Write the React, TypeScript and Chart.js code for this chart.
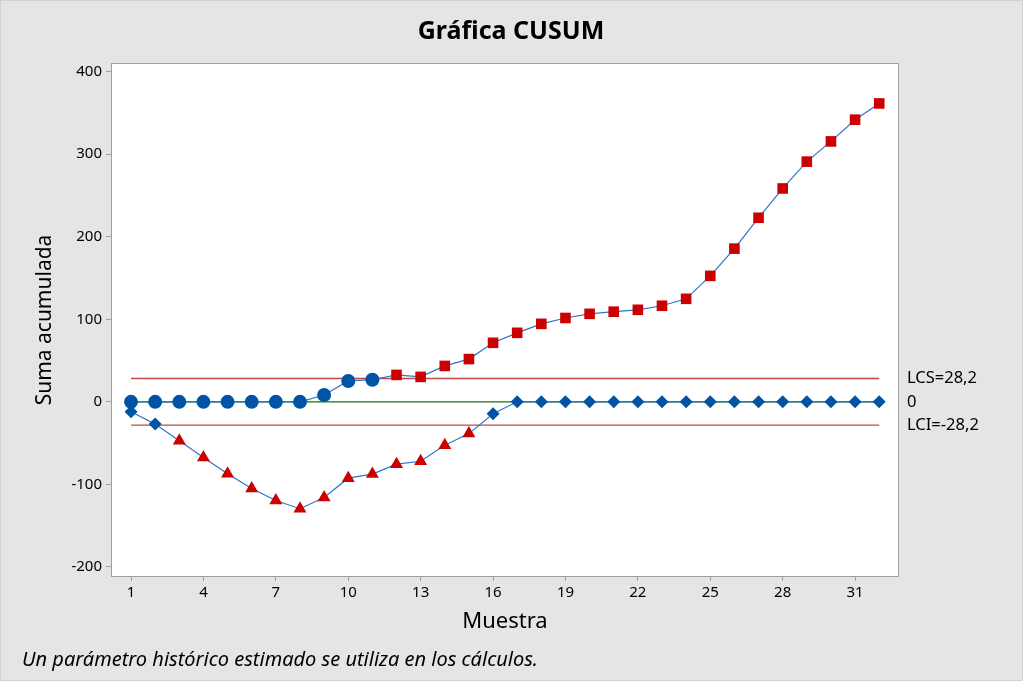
import React, { useEffect, useRef } from "react";
import { Chart, registerables } from "chart.js";

Chart.register(...registerables);

// ---- data ----
const samples = [1, 2, 3, 4, 5, 6, 7, 8, 9, 10, 11, 12, 13, 14, 15, 16, 17, 18, 19, 20, 21, 22, 23, 24, 25, 26, 27, 28, 29, 30, 31, 32];
const cusumUpper = [0, 0, 0, 0, 0, 0, 0, 0, 8.3, 25.3, 26.8, 32.6, 30.2, 43.5, 51.8, 71.5, 83.6, 94.5, 101.6, 106.6, 109.2, 111.5, 116.4, 124.8, 152.6, 185.6, 223, 258.5, 291, 315.5, 341.8, 361.5];
const cusumLower = [-12, -27, -47, -67.5, -87, -105, -119.5, -129.5, -116, -92.5, -87.5, -75.5, -72, -52.5, -38.5, -14.5, 0, 0, 0, 0, 0, 0, 0, 0, 0, 0, 0, 0, 0, 0, 0, 0];
const ucl = 28.2;
const lcl = -28.2;
const center = 0;
const xTicks = [1, 4, 7, 10, 13, 16, 19, 22, 25, 28, 31];
const yTicks = [-200, -100, 0, 100, 200, 300, 400];
const uclLabel = "LCS=28,2";
const centerLabel = "0";
const lclLabel = "LCI=-28,2";
const title = "Gráfica CUSUM";
const xTitle = "Muestra";
const yTitle = "Suma acumulada";
const footnote = "Un parámetro histórico estimado se utiliza en los cálculos.";

const BLUE = "#0054a6";
const RED = "#cc0000";
const LINE = "#2e75c8";
const LIMIT = "#c24848";
const GREEN = "#0a7d0a";
const FONT = "'Noto Sans', 'Open Sans', sans-serif";

export default function App() {
  const ref = useRef<HTMLCanvasElement>(null);

  useEffect(() => {
    document.body.style.margin = "0";
    const canvas = ref.current!;
    const first = samples[0];
    const last = samples[samples.length - 1];

    const decor = {
      id: "decor",
      beforeDraw(chart: any) {
        const { ctx, chartArea: a, width, height } = chart;
        ctx.save();
        ctx.fillStyle = "#e5e5e5";
        ctx.fillRect(0, 0, width, height);
        ctx.strokeStyle = "#d2d2d2";
        ctx.lineWidth = 1;
        ctx.strokeRect(0.5, 0.5, width - 1, height - 1);
        ctx.fillStyle = "#ffffff";
        ctx.fillRect(a.left, a.top, a.right - a.left, a.bottom - a.top);
        ctx.strokeStyle = "#a0a0a0";
        ctx.strokeRect(a.left + 0.5, a.top + 0.5, a.right - a.left - 1, a.bottom - a.top);
        ctx.restore();
      },
      afterDraw(chart: any) {
        const { ctx } = chart;
        const y = chart.scales.y;
        const a = chart.chartArea;
        ctx.save();
        ctx.fillStyle = "#000";
        ctx.textBaseline = "middle";
        ctx.textAlign = "center";
        ctx.font = `bold 25px ${FONT}`;
        ctx.fillText(title, 511, 32);
        ctx.font = `22px ${FONT}`;
        ctx.fillText(xTitle, 505, 622);
        ctx.save();
        ctx.translate(45, 320);
        ctx.rotate(-Math.PI / 2);
        ctx.font = `21px ${FONT}`;
        ctx.fillText(yTitle, 0, 0);
        ctx.restore();
        ctx.textAlign = "left";
        ctx.font = `italic 20px ${FONT}`;
        ctx.fillText(footnote, 22, 660);
        ctx.font = `16.5px ${FONT}`;
        const lx = a.right + 8;
        ctx.fillText(uclLabel, lx, y.getPixelForValue(ucl));
        ctx.fillText(centerLabel, lx, y.getPixelForValue(center));
        ctx.fillText(lclLabel, lx, y.getPixelForValue(lcl));
        ctx.restore();
      },
    };

    const upperPts = samples.map((s, i) => ({ x: s, y: cusumUpper[i] }));
    const lowerPts = samples.map((s, i) => ({ x: s, y: cusumLower[i] }));
    const upperOut = cusumUpper.map((v) => v > ucl);
    const lowerOut = cusumLower.map((v) => v < lcl);

    const chart = new Chart(canvas, {
      type: "line",
      data: {
        datasets: [
          {
            label: "LCS",
            data: [{ x: first, y: ucl }, { x: last, y: ucl }],
            borderColor: LIMIT,
            borderWidth: 1.4,
            pointRadius: 0,
            order: 5,
          },
          {
            label: "Centro",
            data: [{ x: first, y: center }, { x: last, y: center }],
            borderColor: GREEN,
            borderWidth: 1.3,
            pointRadius: 0,
            order: 5,
          },
          {
            label: "LCI",
            data: [{ x: first, y: lcl }, { x: last, y: lcl }],
            borderColor: LIMIT,
            borderWidth: 1.4,
            pointRadius: 0,
            order: 5,
          },
          {
            label: "C-",
            data: lowerPts,
            borderColor: LINE,
            borderWidth: 1.2,
            pointStyle: lowerOut.map((o) => (o ? "triangle" : "rectRot")) as any,
            pointRadius: lowerOut.map((o) => (o ? 7.5 : 6.5)),
            pointBackgroundColor: lowerOut.map((o) => (o ? RED : BLUE)),
            pointBorderColor: lowerOut.map((o) => (o ? RED : BLUE)),
            pointBorderWidth: 0,
            order: 2,
          },
          {
            label: "C+",
            data: upperPts,
            borderColor: LINE,
            borderWidth: 1.2,
            pointStyle: upperOut.map((o) => (o ? "rect" : "circle")) as any,
            pointRadius: upperOut.map((o) => (o ? 7.5 : 7)),
            pointBackgroundColor: upperOut.map((o) => (o ? RED : BLUE)),
            pointBorderColor: upperOut.map((o) => (o ? RED : BLUE)),
            pointBorderWidth: 0,
            order: 1,
          },
        ],
      },
      options: {
        animation: false,
        responsive: false,
        devicePixelRatio: 1,
        layout: { padding: { top: 63, right: 124, left: 0, bottom: 0 } },
        plugins: { legend: { display: false }, tooltip: { enabled: false }, title: { display: false } },
        scales: {
          x: {
            type: "linear",
            min: 0.17,
            max: 32.82,
            afterFit: (s: any) => {
              s.height = 105;
            },
            afterBuildTicks: (s: any) => {
              s.ticks = xTicks.map((v) => ({ value: v }));
            },
            border: { display: false },
            grid: { drawOnChartArea: false, drawTicks: true, tickLength: 5, color: "#a0a0a0" },
            ticks: { color: "#000", font: { family: FONT, size: 15 }, padding: 3, maxRotation: 0, autoSkip: false },
          },
          y: {
            type: "linear",
            min: -211,
            max: 410.5,
            afterFit: (s: any) => {
              s.width = 111;
            },
            afterBuildTicks: (s: any) => {
              s.ticks = yTicks.map((v) => ({ value: v }));
            },
            border: { display: false },
            grid: { drawOnChartArea: false, drawTicks: true, tickLength: 5, color: "#a0a0a0" },
            ticks: { color: "#000", font: { family: FONT, size: 15 }, padding: 4, autoSkip: false },
          },
        },
      },
      plugins: [decor],
    });
    return () => chart.destroy();
  }, []);

  return (
    <div style={{ position: "absolute", left: 0, top: 0, width: 1023, height: 681 }}>
      <canvas ref={ref} width={1023} height={681} style={{ width: 1023, height: 681, display: "block" }} />
    </div>
  );
}
